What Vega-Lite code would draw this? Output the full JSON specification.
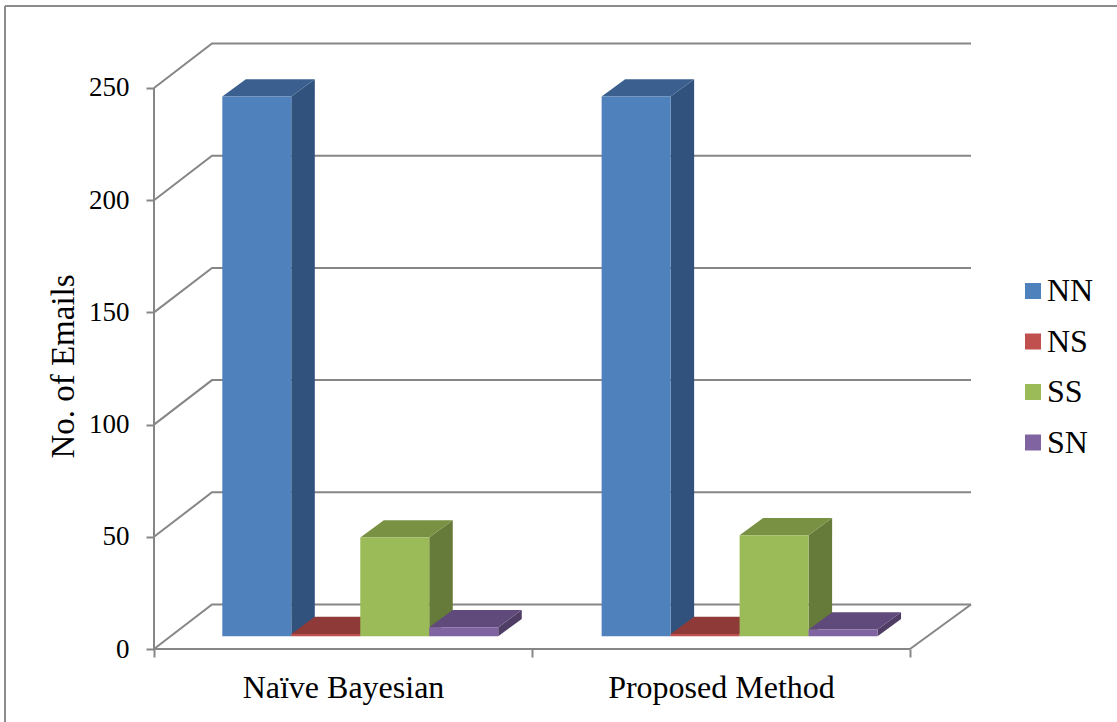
{
  "$schema": "https://vega.github.io/schema/vega-lite/v6.json",
  "width": 1112,
  "height": 716,
  "autosize": "none",
  "padding": {"left": 5, "top": 6, "right": 0, "bottom": 0},
  "background": "white",
  "config": {"view": {"stroke": null}, "font": "Liberation Serif"},
  "datasets": {
    "emails": [
      {"method": "Naïve Bayesian", "series": "NN", "value": 240.5},
      {"method": "Naïve Bayesian", "series": "NS", "value": 1},
      {"method": "Naïve Bayesian", "series": "SS", "value": 44},
      {"method": "Naïve Bayesian", "series": "SN", "value": 4},
      {"method": "Proposed Method", "series": "NN", "value": 240.5},
      {"method": "Proposed Method", "series": "NS", "value": 1},
      {"method": "Proposed Method", "series": "SS", "value": 45},
      {"method": "Proposed Method", "series": "SN", "value": 3}
    ],
    "ticks": [{"tick": 0}, {"tick": 50}, {"tick": 100}, {"tick": 150}, {"tick": 200}, {"tick": 250}]
  },
  "layer": [
    {
      "description": "Chart frame, top and left edges",
      "data": {"values": [{}]},
      "mark": {"type": "rule", "color": "#8c8c8c", "strokeWidth": 2},
      "encoding": {
        "x": {"datum": -0.39418, "type": "quantitative", "scale": {"domain": [-0.39418, 2.54762], "nice": false, "zero": false}, "axis": {"title": null, "values": [0, 0.5, 1, 1.5, 2], "domain": false, "grid": false, "offset": -73, "tickSize": 8, "tickWidth": 2, "tickColor": "#868686", "tickOpacity": {"expr": "datum.value % 1 == 0 ? 1 : 0"}, "labelFontSize": 32, "labelColor": "black", "labelPadding": 15, "labelOverlap": false, "labelFlush": false, "labelLimit": 400, "labelExpr": "datum.value == 0.5 ? 'Naïve Bayesian' : datum.value == 1.5 ? 'Proposed Method' : ''"}},
        "y": {"datum": -32.53, "type": "quantitative", "scale": {"domain": [-32.53, 286.54], "nice": false, "zero": false}, "axis": {"title": "No. of Emails", "values": [0, 50, 100, 150, 200, 250], "domain": false, "grid": false, "offset": -149, "tickSize": 8, "tickWidth": 2, "tickColor": "#868686", "labelFontSize": 27, "labelColor": "black", "labelPadding": 17, "titleFontSize": 33, "titleFontWeight": "normal", "titleColor": "black", "titlePadding": 8, "titleY": 360}},
        "y2": {"datum": 286.54}
      }
    },
    {
      "data": {"values": [{}]},
      "mark": {"type": "rule", "color": "#8c8c8c", "strokeWidth": 2},
      "encoding": {
        "x": {"datum": -0.39418, "type": "quantitative", "scale": {"domain": [-0.39418, 2.54762], "nice": false, "zero": false}},
        "x2": {"datum": 2.54762},
        "y": {"datum": 286.54, "type": "quantitative", "scale": {"domain": [-32.53, 286.54], "nice": false, "zero": false}}
      }
    },
    {
      "description": "Gridlines running along the side wall and back wall",
      "data": {"name": "ticks"},
      "transform": [
        {"calculate": "[0, 1, 2]", "as": "t"},
        {"flatten": ["t"]},
        {"calculate": "[0, 0.1534, 2.1614][datum.t]", "as": "wx"},
        {"calculate": "datum.tick + [0, 19.83, 19.83][datum.t]", "as": "wy"}
      ],
      "mark": {"type": "line", "color": "#868686", "strokeWidth": 2},
      "encoding": {
        "x": {"field": "wx", "type": "quantitative", "scale": {"domain": [-0.39418, 2.54762], "nice": false, "zero": false}},
        "y": {"field": "wy", "type": "quantitative", "scale": {"domain": [-32.53, 286.54], "nice": false, "zero": false}},
        "detail": {"field": "tick"}
      }
    },
    {
      "description": "Value axis line",
      "data": {"values": [{}]},
      "mark": {"type": "rule", "color": "#868686", "strokeWidth": 2},
      "encoding": {
        "x": {"datum": 0, "type": "quantitative", "scale": {"domain": [-0.39418, 2.54762], "nice": false, "zero": false}},
        "y": {"datum": 0, "type": "quantitative", "scale": {"domain": [-32.53, 286.54], "nice": false, "zero": false}},
        "y2": {"datum": 250}
      }
    },
    {
      "description": "Front edge of the floor",
      "data": {"values": [{}]},
      "mark": {"type": "rule", "color": "#868686", "strokeWidth": 2},
      "encoding": {
        "x": {"datum": 0, "type": "quantitative", "scale": {"domain": [-0.39418, 2.54762], "nice": false, "zero": false}},
        "x2": {"datum": 2},
        "y": {"datum": 0, "type": "quantitative", "scale": {"domain": [-32.53, 286.54], "nice": false, "zero": false}}
      }
    },
    {
      "description": "Right edge of the floor",
      "data": {"values": [{}]},
      "mark": {"type": "rule", "color": "#868686", "strokeWidth": 2},
      "encoding": {
        "x": {"datum": 2, "type": "quantitative", "scale": {"domain": [-0.39418, 2.54762], "nice": false, "zero": false}},
        "x2": {"datum": 2.1614},
        "y": {"datum": 0, "type": "quantitative", "scale": {"domain": [-32.53, 286.54], "nice": false, "zero": false}},
        "y2": {"datum": 19.83}
      }
    },
    {
      "description": "Right-hand side face of each column",
      "data": {"name": "emails"},
      "transform": [
        {"calculate": "indexof(['Naïve Bayesian', 'Proposed Method'], datum.method) * 1.0035 + 0.1807 + indexof(['NN', 'NS', 'SS', 'SN'], datum.series) * 0.1825", "as": "bx"},
        {"calculate": "[0, 1]", "as": "t"},
        {"flatten": ["t"]},
        {"calculate": "datum.bx + 0.1825 + datum.t * 0.0622", "as": "sx"},
        {"calculate": "5.66 + datum.value + datum.t * 7.75", "as": "sy"},
        {"calculate": "5.66 + datum.t * 7.75", "as": "sy2"}
      ],
      "mark": {"type": "area", "opacity": 1},
      "encoding": {
        "x": {"field": "sx", "type": "quantitative", "scale": {"domain": [-0.39418, 2.54762], "nice": false, "zero": false}},
        "y": {"field": "sy", "type": "quantitative", "stack": null, "scale": {"domain": [-32.53, 286.54], "nice": false, "zero": false}},
        "y2": {"field": "sy2"},
        "detail": {"field": "method"},
        "color": {"field": "series", "type": "nominal", "legend": null, "scale": {"domain": ["NN", "NS", "SS", "SN"], "range": ["#31527d", "#7a312f", "#667a39", "#4f3d65"]}}
      }
    },
    {
      "description": "Top face of each column",
      "data": {"name": "emails"},
      "transform": [
        {"calculate": "indexof(['Naïve Bayesian', 'Proposed Method'], datum.method) * 1.0035 + 0.1807 + indexof(['NN', 'NS', 'SS', 'SN'], datum.series) * 0.1825", "as": "bx"},
        {"calculate": "[0, 1, 2, 3]", "as": "t"},
        {"flatten": ["t"]},
        {"calculate": "datum.bx + [0, 0.0622, 0.1825, 0.2447][datum.t]", "as": "tx"},
        {"calculate": "5.66 + datum.value + [0, 7.75, 7.75, 7.75][datum.t]", "as": "ty"},
        {"calculate": "5.66 + datum.value + [0, 0, 0, 7.75][datum.t]", "as": "ty2"}
      ],
      "mark": {"type": "area", "opacity": 1},
      "encoding": {
        "x": {"field": "tx", "type": "quantitative", "scale": {"domain": [-0.39418, 2.54762], "nice": false, "zero": false}},
        "y": {"field": "ty", "type": "quantitative", "stack": null, "scale": {"domain": [-32.53, 286.54], "nice": false, "zero": false}},
        "y2": {"field": "ty2"},
        "detail": {"field": "method"},
        "color": {"field": "series", "type": "nominal", "legend": null, "scale": {"domain": ["NN", "NS", "SS", "SN"], "range": ["#3b608f", "#8e3a38", "#799143", "#604a7b"]}}
      }
    },
    {
      "description": "Front face of each column, carrying the legend",
      "data": {"name": "emails"},
      "transform": [
        {"calculate": "indexof(['Naïve Bayesian', 'Proposed Method'], datum.method) * 1.0035 + 0.1807 + indexof(['NN', 'NS', 'SS', 'SN'], datum.series) * 0.1825", "as": "bx"},
        {"calculate": "datum.bx + 0.1825", "as": "bx2"},
        {"calculate": "5.66 + datum.value", "as": "fy"},
        {"calculate": "5.66", "as": "fy2"}
      ],
      "mark": {"type": "rect"},
      "encoding": {
        "x": {"field": "bx", "type": "quantitative", "scale": {"domain": [-0.39418, 2.54762], "nice": false, "zero": false}},
        "x2": {"field": "bx2"},
        "y": {"field": "fy", "type": "quantitative", "scale": {"domain": [-32.53, 286.54], "nice": false, "zero": false}},
        "y2": {"field": "fy2"},
        "color": {
          "field": "series",
          "type": "nominal",
          "scale": {"domain": ["NN", "NS", "SS", "SN"], "range": ["#4f81bd", "#c0504d", "#9bbb59", "#8064a2"]},
          "legend": {"title": null, "orient": "none", "legendX": 1012, "legendY": 269, "symbolType": "square", "symbolSize": 256, "symbolStrokeWidth": 0, "labelFontSize": 32, "labelColor": "black", "labelOffset": -2, "rowPadding": 18.5, "padding": 0}
        }
      }
    }
  ],
  "resolve": {"scale": {"color": "independent"}}
}
